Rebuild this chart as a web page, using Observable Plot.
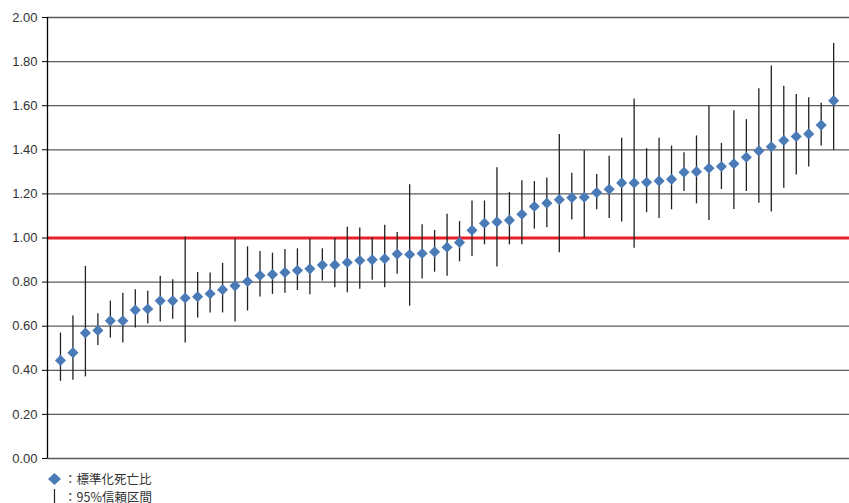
<!DOCTYPE html>
<html>
<head>
<meta charset="utf-8">
<script src="https://cdn.jsdelivr.net/npm/d3@7"></script>
<script src="https://cdn.jsdelivr.net/npm/@observablehq/plot@0.6"></script>
<style>
body{margin:0;background:#fff;font-family:"Liberation Sans",Arial,sans-serif;}
#chart svg{display:block;}
#legend{font-family:"Noto Sans CJK JP","Noto Sans CJK SC",sans-serif;font-size:12.5px;color:#333;padding-top:0px;}
#legend div{height:18px;line-height:18px;display:flex;align-items:center;white-space:nowrap;}
</style>
</head>
<body>
<div id="chart"></div>
<div id="legend">
<div><svg width="64" height="18"><path d="M54.5,3 L61,9 L54.5,15 L48,9Z" fill="#4a7bb7"/></svg><span>：標準化死亡比</span></div>
<div><svg width="64" height="18"><line x1="54.5" x2="54.5" y1="1" y2="18" stroke="#222" stroke-width="1.2"/></svg><span>：95%信頼区間</span></div>
</div>
<script>
const smr = [0.445,0.480,0.569,0.581,0.625,0.625,0.673,0.678,0.715,0.715,0.728,0.734,0.747,0.765,0.783,0.803,0.830,0.835,0.844,0.853,0.860,0.877,0.878,0.889,0.898,0.901,0.906,0.927,0.925,0.930,0.937,0.958,0.980,1.035,1.067,1.073,1.081,1.108,1.143,1.158,1.174,1.183,1.185,1.206,1.221,1.250,1.250,1.253,1.259,1.266,1.298,1.301,1.316,1.324,1.337,1.366,1.395,1.414,1.442,1.460,1.472,1.512,1.623];
const upper = [0.569,0.646,0.871,0.657,0.714,0.750,0.765,0.759,0.826,0.811,1.004,0.844,0.841,0.885,0.995,0.960,0.939,0.931,0.948,0.951,0.995,0.951,0.998,1.049,1.045,1.001,1.058,1.025,1.241,1.060,1.034,1.108,1.075,1.168,1.168,1.319,1.206,1.260,1.256,1.272,1.469,1.294,1.396,1.288,1.371,1.452,1.630,1.405,1.452,1.417,1.387,1.463,1.598,1.429,1.577,1.537,1.677,1.780,1.688,1.651,1.636,1.611,1.882];
const lower = [0.350,0.355,0.370,0.513,0.546,0.524,0.592,0.610,0.619,0.632,0.524,0.637,0.660,0.660,0.619,0.669,0.732,0.744,0.750,0.762,0.743,0.805,0.774,0.752,0.768,0.808,0.774,0.836,0.690,0.814,0.845,0.827,0.892,0.916,0.969,0.868,0.969,0.969,1.040,1.046,0.933,1.082,0.999,1.128,1.088,1.073,0.954,1.115,1.088,1.128,1.211,1.155,1.079,1.220,1.129,1.211,1.158,1.118,1.226,1.286,1.322,1.417,1.398];
const yTicks = [0,0.2,0.4,0.6,0.8,1.0,1.2,1.4,1.6,1.8,2.0];
const refLine = [1.0];

const data = smr.map((v,i)=>({i:i+1, v, lo:lower[i], hi:upper[i]}));

const chart = Plot.plot({
  width: 849,
  height: 470,
  marginTop: 17,
  marginBottom: 12,
  marginLeft: 47,
  marginRight: 0,
  x: {domain: [-0.04, 64.27], axis: null},
  y: {domain: [0, 2], ticks: yTicks, tickFormat: d3.format(".2f"), tickSize: 5, tickPadding: 5, label: null},
  style: {fontSize: "13px", fontFamily: "Liberation Sans, Arial, sans-serif", color: "#333", background: "#fff"},
  marks: [
    Plot.ruleY(yTicks, {stroke: "#5a5a5a", strokeWidth: 1.3}),
    Plot.ruleY(refLine, {stroke: "#e8202a", strokeWidth: 3}),
    Plot.ruleX(data, {x: "i", y1: "lo", y2: "hi", stroke: "#222", strokeWidth: 1.3}),
    Plot.dot(data, {x: "i", y: "v", symbol: "diamond2", r: 5, fill: "#4a7bb7", stroke: "none"}),
    Plot.axisY({ticks: yTicks, tickFormat: d3.format(".2f"), tickSize: 5, tickPadding: 5, stroke: "#000", color: "#333"}),
    Plot.ruleX([-0.04], {stroke: "#000", strokeWidth: 1.3})
  ]
});
document.getElementById("chart").appendChild(chart);
</script>
</body>
</html>
